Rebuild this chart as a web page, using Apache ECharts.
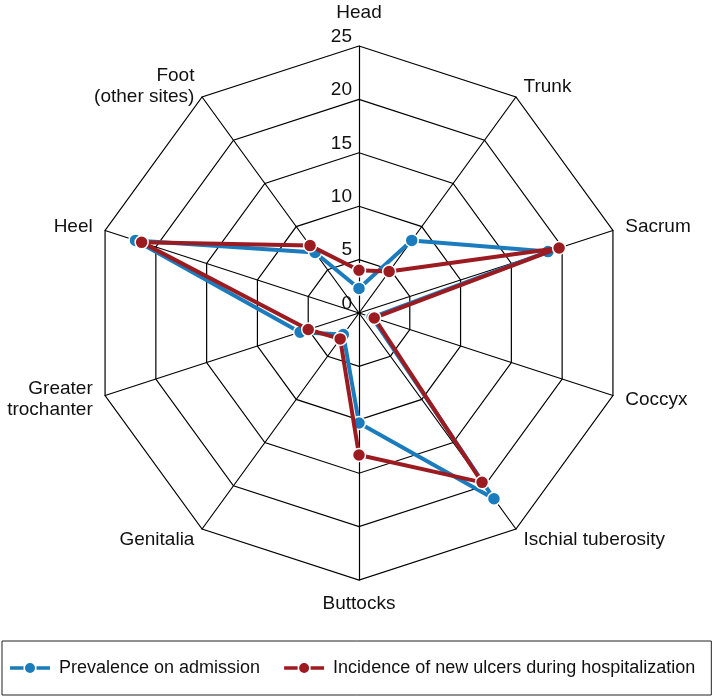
<!DOCTYPE html>
<html><head><meta charset="utf-8">
<script src="https://cdn.jsdelivr.net/npm/echarts@6/dist/echarts.min.js"></script>
<style>html,body{margin:0;padding:0;background:#fff}#c{width:715px;height:696px}</style>
</head><body><div id="c"></div>
<script>
// Categories listed clockwise starting from the top
const categories = ['Head','Trunk','Sacrum','Coccyx','Ischial tuberosity','Buttocks','Genitalia','Greater\ntrochanter','Heel','Foot\n(other sites)'];
const prevalence = [2.3, 8.4, 18.6, 1.3, 21.5, 10.3, 2.5, 5.8, 22.0, 7.0];
const incidence = [4.0, 4.8, 19.7, 1.5, 19.6, 13.3, 3.0, 5.0, 21.4, 7.8];
const ticks = [0, 5, 10, 15, 20, 25];
const seriesNames = ['Prevalence on admission','Incidence of new ulcers during hospitalization'];
const colors = ['#1a7bbd','#9c1b20'];
const font = '"Liberation Sans", Arial, Helvetica, sans-serif';

// ECharts radar runs counter-clockwise; reorder so that it reads clockwise
const order = [0].concat(categories.map((_, i) => i).slice(1).reverse());
const ccw = arr => order.map(i => arr[i]);

const legendIcon = 'path://M0,3.3h13.5v3.4h-13.5z M26.5,3.3h13.5v3.4h-13.5z M15,5a5,5 0 1,0 10,0a5,5 0 1,0 -10,0z';

const chart = echarts.init(document.getElementById('c'));
const center = [359, 313], radius = 267;
chart.setOption({
  animation: false,
  legend: {
    bottom: 1, left: 2,
    data: seriesNames.map((n, i) => ({name: n, icon: legendIcon,
      itemStyle: {color: colors[i], borderWidth: 0, borderColor: colors[i]}})),
    itemWidth: 40, itemHeight: 10, itemGap: 24,
    padding: [18, 16, 18, 8],
    borderColor: '#222', borderWidth: 1,
    textStyle: {fontSize: 18, fontFamily: font, color: '#111', padding: [0, 0, 0, 4]}
  },
  radar: {
    center: center, radius: radius, shape: 'polygon', startAngle: 90,
    splitNumber: 5,
    indicator: ccw(categories).map(n => ({name: n, min: 0, max: 25})),
    axisName: {
      color: '#111', fontSize: 19, fontFamily: font, lineHeight: 21,
      formatter: n => n === 'Head' ? '{h|Head}' : n,
      rich: {h: {fontSize: 19, fontFamily: font, color: '#111', padding: [0, 0, 20, 0]}}
    },
    nameGap: 13,
    axisLine: {lineStyle: {color: '#000', width: 1.2}},
    splitLine: {lineStyle: {color: '#000', width: 1.2}},
    splitArea: {show: false},
    axisTick: {show: false},
    axisLabel: {show: false}
  },
  polar: {center: center, radius: radius},
  angleAxis: {show: false, startAngle: 90, min: 0, max: 360},
  radiusAxis: {
    min: 0, max: 25, interval: 5,
    axisLine: {show: false}, axisTick: {show: false}, splitLine: {show: false},
    axisLabel: {show: true, fontSize: 19, fontFamily: font, color: '#111', margin: 7,
      verticalAlign: 'bottom', formatter: v => ticks.includes(v) ? String(v) : ''}
  },
  series: [
    {type: 'radar', name: seriesNames[0], data: [{value: ccw(prevalence), name: seriesNames[0]}],
      symbol: 'circle', symbolSize: 13, z: 2,
      itemStyle: {color: colors[0], borderColor: '#fff', borderWidth: 1.5},
      lineStyle: {color: colors[0], width: 4}},
    {type: 'radar', name: seriesNames[1], data: [{value: ccw(incidence), name: seriesNames[1]}],
      symbol: 'circle', symbolSize: 13, z: 3,
      itemStyle: {color: colors[1], borderColor: '#fff', borderWidth: 1.5},
      lineStyle: {color: colors[1], width: 4}}
  ]
});
</script></body></html>
